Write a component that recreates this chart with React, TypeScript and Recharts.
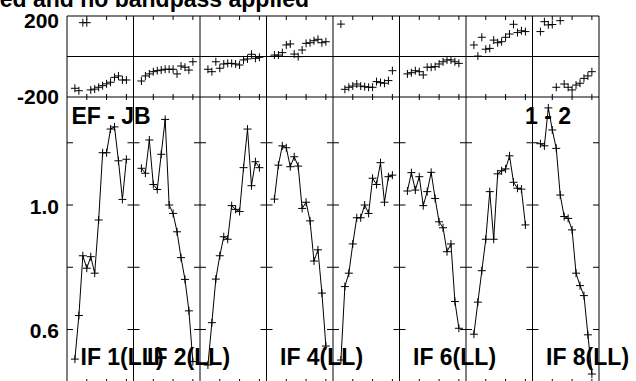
import React from 'react';
import { ComposedChart, Line, XAxis, YAxis, ReferenceLine } from 'recharts';

// ---- data ----
const CHANNELS = [2, 3, 4, 5, 6, 7, 8, 9, 10, 11, 12, 13, 14, 15];
const TICK_CHANNELS = [5, 10, 15];
const IF_COUNT = 8;
const IF_SPAN = 16.8; // channel units per IF panel
const SHOWN_IF_LABELS = [
  { idx: 0, text: 'IF 1(LL)' },
  { idx: 1, text: 'IF 2(LL)' },
  { idx: 3, text: 'IF 4(LL)' },
  { idx: 5, text: 'IF 6(LL)' },
  { idx: 7, text: 'IF 8(LL)' },
];
const TITLE = 'ed and no bandpass applied';
const BASELINE_LABEL = 'EF - JB';
const STOKES_LABEL = '1 - 2';

const AMP_IF1 = [0.505, 0.645, 0.837, 0.797, 0.834, 0.781, 0.952, 1.168, 1.168, 1.244, 1.251, 1.142, 1.018, 1.147];
const AMP_IF2 = [1.118, 1.102, 1.209, 1.066, 1.05, 1.163, 1.275, 1.0, 0.973, 0.914, 0.831, 0.761, 0.66, 0.497];
const AMP_IF3 = [0.486, 0.622, 0.762, 0.837, 0.898, 0.89, 0.998, 0.986, 0.979, 1.12, 1.244, 1.062, 1.139, 1.12];
const AMP_IF4 = [1.019, 1.128, 1.19, 1.184, 1.123, 1.155, 1.125, 0.989, 1.009, 0.949, 0.82, 0.856, 0.717, 0.547];
const AMP_IF5 = [0.502, 0.738, 0.781, 0.875, 0.959, 0.959, 1.0, 0.973, 1.086, 1.066, 1.136, 1.009, 1.091, 1.096];
const AMP_IF6 = [1.045, 1.104, 1.048, 1.091, 0.998, 1.043, 1.105, 1.021, 0.946, 0.927, 0.85, 0.875, 0.69, 0.604];
const AMP_IF7 = [0.585, 0.688, 0.789, 0.89, 1.043, 0.89, 1.1, 1.11, 1.116, 1.158, 1.073, 1.054, 1.051, 0.936];
const AMP_IF8 = [1.197, 1.19, 1.312, 1.241, 1.182, 1.032, 0.963, 0.957, 0.92, 0.781, 0.741, 0.709, 0.583, 0.457];

const PH_IF1 = [-157, -169, 167, 167, -165, -161, -152, -144, -135, -127, -103, -96, -116, -116];
const PH_IF2 = [-121, -96, -86, -75, -70, -67, -63, -63, -63, -86, -47, -53, -67, -26];
const PH_IF3 = [-63, -75, -26, -58, -37, -34, -34, -37, -42, -17, -12, 11, -9, -4];
const PH_IF4 = [7, 7, 19, 57, 62, 12, -1, 32, 65, 68, 78, 85, 68, 73];
const PH_IF5 = [160, -162, -152, -146, -136, -146, -149, -152, -152, -124, -129, -132, -119, -70];
const PH_IF6 = [-86, -80, -70, -75, -91, -53, -53, -50, -37, -26, -17, -17, -26, -34];
const PH_IF7 = [57, 2, 95, 36, 40, 81, 68, 73, 95, 111, 159, 118, 127, 123];
const PH_IF8 = [123, 172, 156, 158, -152, 177, -136, -152, -165, -141, -132, -108, -96, -75];

const AMP = [AMP_IF1, AMP_IF2, AMP_IF3, AMP_IF4, AMP_IF5, AMP_IF6, AMP_IF7, AMP_IF8];
const PH = [PH_IF1, PH_IF2, PH_IF3, PH_IF4, PH_IF5, PH_IF6, PH_IF7, PH_IF8];

const PHASE_DOMAIN = [-200, 200];
const PHASE_LABEL_TICKS = [200, -200];
const AMP_DOMAIN = [0.425, 1.347];
const AMP_LABEL_TICKS = [1.0, 0.6];
const AMP_MINOR_TICKS = [0.6, 0.8, 1.0, 1.2];

// ---- layout ----
const W = 636;
const PLOT_LEFT = 67;
const PLOT_RIGHT_MARGIN = 37;
const PLOT_W = W - PLOT_LEFT - PLOT_RIGHT_MARGIN;
const X_MAX = IF_COUNT * IF_SPAN;
const pxToX = (px: number) => (px * X_MAX) / PLOT_W;
const FONT = '"Liberation Sans", Arial, Helvetica, sans-serif';

const series = AMP.map((amps, k) =>
  CHANNELS.map((c, i) => ({ x: k * IF_SPAN + c, amp: amps[i], ph: PH[k][i] }))
);
const boundaries = Array.from({ length: IF_COUNT + 1 }, (_, k) => k * IF_SPAN);
const tickXs: number[] = [];
for (let k = 0; k < IF_COUNT; k++) for (const c of TICK_CHANNELS) tickXs.push(k * IF_SPAN + c);

const plusDot = (id: string) => (p: any) => {
  const { cx, cy, index } = p;
  if (cx == null || cy == null || isNaN(cx) || isNaN(cy)) return <g key={`${id}-${index}`} />;
  return (
    <path
      key={`${id}-${index}`}
      d={`M${cx - 4},${cy}H${cx + 4}M${cx},${cy - 4}V${cy + 4}`}
      stroke="#000"
      strokeWidth={1}
      fill="none"
    />
  );
};

const makeTick = (fmt: (v: number) => string, shift: (v: number) => number) => (p: any) => {
  const { x, y, payload } = p;
  return (
    <text
      x={x}
      y={y + shift(payload.value)}
      textAnchor="end"
      dominantBaseline="central"
      fontFamily={FONT}
      fontWeight="bold"
      fontSize={21}
      fill="#000"
    >
      {fmt(payload.value)}
    </text>
  );
};

const phaseTick = makeTick((v) => String(v), (v) => (v > 0 ? 4 : -1));
const ampTick = makeTick((v) => v.toFixed(1), () => 1);

const PHASE_TOP = 16;
const PHASE_BOTTOM = 97;
const AMP_BOTTOM = 384;

function PhaseChart() {
  const perPx = (PHASE_DOMAIN[1] - PHASE_DOMAIN[0]) / (PHASE_BOTTOM - PHASE_TOP);
  return (
    <ComposedChart
      width={W}
      height={PHASE_BOTTOM + 25}
      margin={{ top: PHASE_TOP, right: PLOT_RIGHT_MARGIN, bottom: 25, left: 0 }}
      style={{ overflow: 'visible' }}
    >
      <XAxis type="number" dataKey="x" domain={[0, X_MAX]} hide allowDataOverflow />
      <YAxis
        type="number"
        domain={PHASE_DOMAIN}
        ticks={PHASE_LABEL_TICKS}
        interval={0}
        width={PLOT_LEFT}
        axisLine={false}
        tickLine={false}
        tickSize={6}
        tickMargin={2}
        tick={phaseTick}
        allowDataOverflow
      />
      {boundaries.map((b) => (
        <ReferenceLine key={`pb${b}`} x={b} stroke="#000" strokeWidth={1} ifOverflow="visible" />
      ))}
      <ReferenceLine y={PHASE_DOMAIN[1]} stroke="#000" strokeWidth={1} ifOverflow="visible" />
      <ReferenceLine y={0} stroke="#000" strokeWidth={1} ifOverflow="visible" />
      <ReferenceLine y={PHASE_DOMAIN[0]} stroke="#000" strokeWidth={1} ifOverflow="visible" />
      {tickXs.map((t) => (
        <ReferenceLine
          key={`pt${t}`}
          segment={[{ x: t, y: PHASE_DOMAIN[1] }, { x: t, y: PHASE_DOMAIN[1] - 4 * perPx }]}
          stroke="#000"
          ifOverflow="visible"
        />
      ))}
      {tickXs.map((t) => (
        <ReferenceLine
          key={`pbt${t}`}
          segment={[{ x: t, y: PHASE_DOMAIN[0] }, { x: t, y: PHASE_DOMAIN[0] + 3 * perPx }]}
          stroke="#000"
          ifOverflow="visible"
        />
      ))}
      {series.map((d, k) => (
        <Line
          key={`ph${k}`}
          data={d}
          dataKey="ph"
          type="linear"
          stroke="none"
          dot={plusDot(`ph${k}`)}
          activeDot={false}
          isAnimationActive={false}
        />
      ))}
    </ComposedChart>
  );
}

function AmpChart() {
  const perPx = (AMP_DOMAIN[1] - AMP_DOMAIN[0]) / (AMP_BOTTOM - PHASE_BOTTOM);
  const half = pxToX(6);
  return (
    <ComposedChart
      width={W}
      height={AMP_BOTTOM + 16}
      margin={{ top: PHASE_BOTTOM, right: PLOT_RIGHT_MARGIN, bottom: 16, left: 0 }}
    >
      <XAxis type="number" dataKey="x" domain={[0, X_MAX]} hide allowDataOverflow />
      <YAxis
        type="number"
        domain={AMP_DOMAIN}
        ticks={AMP_LABEL_TICKS}
        interval={0}
        width={PLOT_LEFT}
        axisLine={false}
        tickLine={false}
        tickSize={6}
        tickMargin={2}
        tick={ampTick}
        allowDataOverflow
      />
      {boundaries.map((b) => (
        <ReferenceLine key={`ab${b}`} x={b} stroke="#000" strokeWidth={1} ifOverflow="visible" />
      ))}
      <ReferenceLine y={AMP_DOMAIN[0]} stroke="#000" strokeWidth={1} ifOverflow="visible" />
      {tickXs.map((t) => (
        <ReferenceLine
          key={`at${t}`}
          segment={[{ x: t, y: AMP_DOMAIN[1] }, { x: t, y: AMP_DOMAIN[1] - 3 * perPx }]}
          stroke="#000"
          ifOverflow="visible"
        />
      ))}
      {tickXs.map((t) => (
        <ReferenceLine
          key={`abt${t}`}
          segment={[{ x: t, y: AMP_DOMAIN[0] }, { x: t, y: AMP_DOMAIN[0] + 5 * perPx }]}
          stroke="#000"
          ifOverflow="visible"
        />
      ))}
      {boundaries.map((b) =>
        AMP_MINOR_TICKS.map((v) => (
          <ReferenceLine
            key={`ay${b}-${v}`}
            segment={[
              { x: Math.max(0, b - half), y: v },
              { x: Math.min(X_MAX, b + half), y: v },
            ]}
            stroke="#000"
            ifOverflow="visible"
          />
        ))
      )}
      {series.map((d, k) => (
        <Line
          key={`amp${k}`}
          data={d}
          dataKey="amp"
          type="linear"
          stroke="#000"
          strokeWidth={1}
          dot={plusDot(`amp${k}`)}
          activeDot={false}
          isAnimationActive={false}
        />
      ))}
    </ComposedChart>
  );
}

export default function App() {
  const panelPx = PLOT_W / IF_COUNT;
  return (
    <div
      style={{
        position: 'absolute',
        left: 0,
        top: 0,
        width: W,
        height: 381,
        overflow: 'hidden',
        background: '#fff',
      }}
    >
      <div style={{ position: 'absolute', left: 0, top: 0 }}>
        <AmpChart />
      </div>
      <div style={{ position: 'absolute', left: 0, top: 0 }}>
        <PhaseChart />
      </div>
      <svg
        width={W}
        height={381}
        style={{ position: 'absolute', left: 0, top: 0, pointerEvents: 'none' }}
        fontFamily={FONT}
        fontWeight="bold"
        fill="#000"
      >
        <text x={309} y={7} textAnchor="end" fontSize={23}>
          {TITLE}
        </text>
        <text x={71.5} y={124} fontSize={23}>
          {BASELINE_LABEL}
        </text>
        <text x={525} y={124} fontSize={23}>
          {STOKES_LABEL}
        </text>
        {SHOWN_IF_LABELS.map((l) => (
          <text key={l.text} x={PLOT_LEFT + l.idx * panelPx + 13.5} y={365} fontSize={23}>
            {l.text}
          </text>
        ))}
      </svg>
    </div>
  );
}
